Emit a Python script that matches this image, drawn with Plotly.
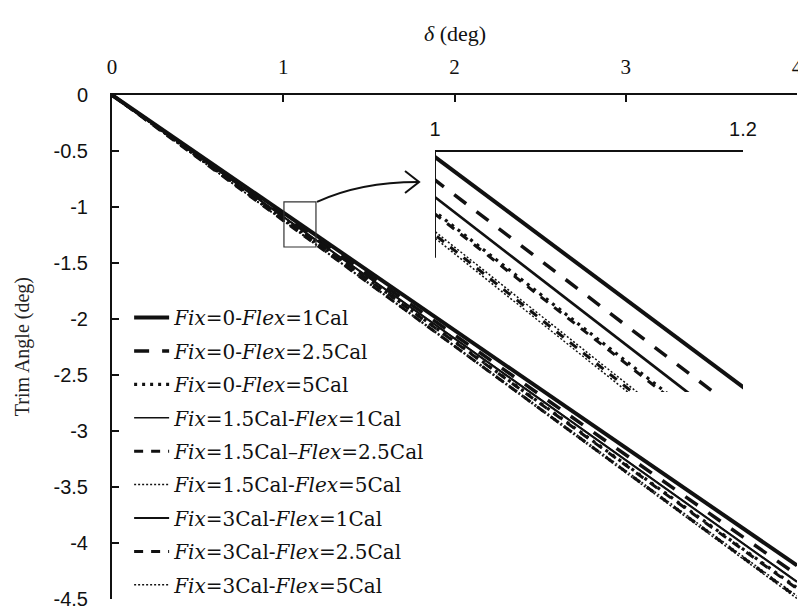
import plotly.graph_objects as go

# =========================
# DATA
# =========================
delta = [0, 1, 2, 3, 4]

fix0_flex1 = [0, -1.050, -2.100, -3.150, -4.200]
fix0_flex25 = [0, -1.071, -2.142, -3.213, -4.284]
fix0_flex5 = [0, -1.100, -2.200, -3.300, -4.400]
fix15_flex1 = [0, -1.086, -2.172, -3.258, -4.344]
fix15_flex25 = [0, -1.102, -2.204, -3.306, -4.408]
fix15_flex5 = [0, -1.118, -2.236, -3.354, -4.472]
fix3_flex1 = [0, -1.087, -2.174, -3.261, -4.348]
fix3_flex25 = [0, -1.121, -2.242, -3.363, -4.484]
fix3_flex5 = [0, -1.124, -2.248, -3.372, -4.496]

names = [
    "<i>Fix</i>=0-<i>Flex</i>=1Cal",
    "<i>Fix</i>=0-<i>Flex</i>=2.5Cal",
    "<i>Fix</i>=0-<i>Flex</i>=5Cal",
    "<i>Fix</i>=1.5Cal-<i>Flex</i>=1Cal",
    "<i>Fix</i>=1.5Cal–<i>Flex</i>=2.5Cal",
    "<i>Fix</i>=1.5Cal-<i>Flex</i>=5Cal",
    "<i>Fix</i>=3Cal-<i>Flex</i>=1Cal",
    "<i>Fix</i>=3Cal-<i>Flex</i>=2.5Cal",
    "<i>Fix</i>=3Cal-<i>Flex</i>=5Cal",
]
values = [fix0_flex1, fix0_flex25, fix0_flex5, fix15_flex1, fix15_flex25,
          fix15_flex5, fix3_flex1, fix3_flex25, fix3_flex5]

x_ticks = [0, 1, 2, 3, 4]
y_ticks = [0, -0.5, -1, -1.5, -2, -2.5, -3, -3.5, -4, -4.5]
y_ticktext = ["0", "-0.5", "-1", "-1.5", "-2", "-2.5", "-3", "-3.5", "-4", "-4.5"]
inset_ticks = [1, 1.2]

# line styles (width, dash)
styles = [
    (4, "solid"),
    (3.5, "15px,13px"),
    (3.2, "3px,5px"),
    (1.5, "solid"),
    (3, "9px,8px"),
    (1.5, "2px,2px"),
    (2, "solid"),
    (3, "9px,8px"),
    (1.5, "2px,2px"),
]

INK = "#111111"
SERIF = "Liberation Serif"
SANS = "Liberation Sans"

fig = go.Figure()

for i, (name, vals, (w, d)) in enumerate(zip(names, values, styles)):
    fig.add_trace(go.Scatter(
        x=delta, y=vals, mode="lines", name=name,
        line=dict(color=INK, width=w, dash=d),
        legendgroup=f"g{i}", showlegend=True,
        xaxis="x", yaxis="y",
    ))

# inset (zoom on delta 1 .. 1.2)
for i, (name, vals, (w, d)) in enumerate(zip(names, values, styles)):
    fig.add_trace(go.Scatter(
        x=delta, y=vals, mode="lines", name=name,
        line=dict(color=INK, width=w, dash=d),
        legendgroup=f"g{i}", showlegend=False,
        xaxis="x2", yaxis="y2", hoverinfo="skip",
    ))

# page body adds an 8px offset, so the figure is a bit smaller than the window
fig.update_layout(
    width=798, height=603,
    margin=dict(l=104, r=9, t=87, b=12, autoexpand=False),
    paper_bgcolor="white",
    plot_bgcolor="rgba(0,0,0,0)",
    font=dict(family=SERIF, color=INK),
    xaxis=dict(
        range=[0, 4], side="top", tickvals=x_ticks,
        showline=True, linewidth=2, linecolor=INK, mirror=False,
        ticks="inside", ticklen=7, tickwidth=2, tickcolor=INK,
        showgrid=False, zeroline=False, automargin=False,
        tickfont=dict(family=SERIF, size=21, color=INK),
        ticklabelstandoff=11,
    ),
    yaxis=dict(
        range=[-4.5, 0], tickvals=y_ticks, ticktext=y_ticktext,
        showline=True, linewidth=2, linecolor=INK,
        ticks="inside", ticklen=7, tickwidth=2, tickcolor=INK,
        showgrid=False, zeroline=False, automargin=False,
        tickfont=dict(family=SANS, size=20, color=INK),
        ticklabelstandoff=18,
    ),
    xaxis2=dict(
        domain=[0.4715, 0.9212], range=[1, 1.2], anchor="y2", side="top",
        tickvals=inset_ticks, ticktext=["1", "1.2"],
        showline=True, linewidth=2, linecolor=INK,
        ticks="inside", ticklen=7, tickwidth=2, tickcolor=INK,
        showgrid=False, zeroline=False, automargin=False,
        tickfont=dict(family=SANS, size=20, color=INK),
        ticklabelstandoff=6,
    ),
    yaxis2=dict(
        domain=[0.4107, 0.8869], range=[-1.2646, -1.0454], anchor="x2",
        showline=False, showticklabels=False, ticks="",
        showgrid=False, zeroline=False, automargin=False,
    ),
    legend=dict(
        x=0.025, y=0.597, xanchor="left", yanchor="top",
        bgcolor="rgba(0,0,0,0)", borderwidth=0,
        font=dict(family="DejaVu Serif", size=20, color=INK),
        tracegroupgap=4.4, itemwidth=35,
    ),
    showlegend=True,
)

# inset y-axis stub
fig.add_shape(type="line", xref="x2", yref="y2",
              x0=1, x1=1, y0=-1.0454, y1=-1.142,
              line=dict(color=INK, width=2))

# zoom rectangle on main plot
fig.add_shape(type="rect", xref="x", yref="y",
              x0=1.004, x1=1.191, y0=-0.955, y1=-1.357,
              line=dict(color="#333333", width=1.2))

# curved arrow to the inset
fig.add_shape(type="path", xref="x", yref="y",
              path="M 1.197,-0.955 Q 1.448,-0.777 1.787,-0.777",
              line=dict(color=INK, width=2))
fig.add_shape(type="path", xref="x", yref="y",
              path="M 1.711,-0.679 L 1.793,-0.777 L 1.711,-0.875",
              line=dict(color=INK, width=2))

# axis titles
fig.add_annotation(
    xref="paper", yref="paper", x=0.5, y=1.122, showarrow=False,
    xanchor="center", yanchor="middle",
    text="<i>δ</i> (deg)", font=dict(family=SERIF, size=22, color=INK),
)
fig.add_annotation(
    xref="paper", yref="paper", x=-0.131, y=0.5, showarrow=False,
    xanchor="center", yanchor="middle",
    text="Trim Angle (deg)", textangle=-90,
    font=dict(family=SERIF, size=20, color="#222222"),
)

fig.write_html("out.html")
